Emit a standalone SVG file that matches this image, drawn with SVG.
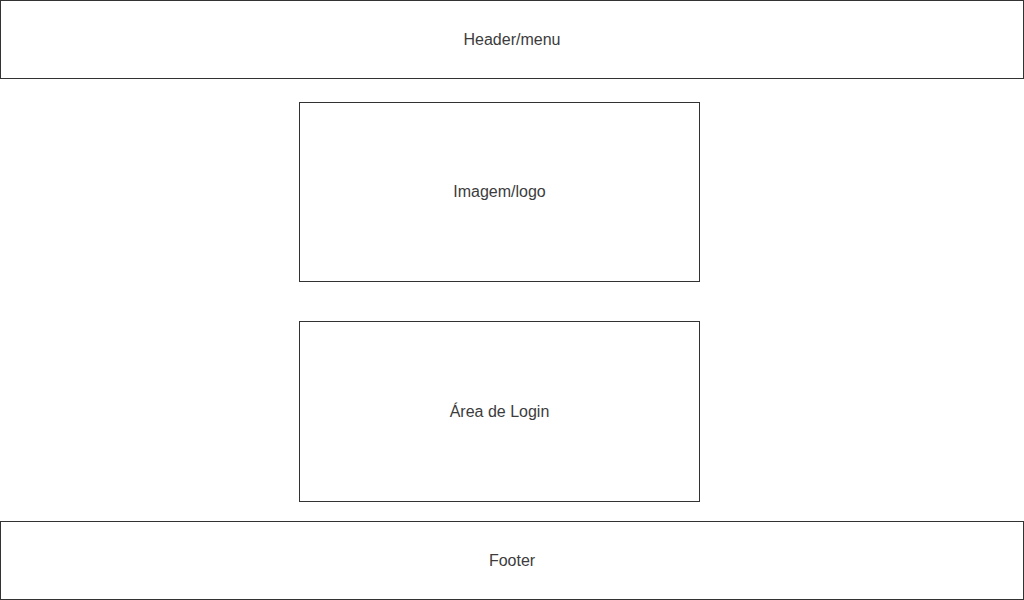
<svg xmlns="http://www.w3.org/2000/svg" width="1024" height="600" viewBox="0 0 1024 600">
<style>
.box{fill:#ffffff;stroke:#333333;stroke-width:1}
.lbl{font-family:"Liberation Sans",Arial,sans-serif;font-size:16px;fill:#3c3c3c;text-anchor:middle;dominant-baseline:central}
</style>
<rect width="1024" height="600" fill="#ffffff"/>
<g id="header"><rect class="box" x="0.5" y="0.5" width="1023" height="78"/><text class="lbl" x="512" y="39">Header/menu</text></g>
<g id="imagem"><rect class="box" x="299.5" y="102.5" width="400" height="179"/><text class="lbl" x="499.5" y="191">Imagem/logo</text></g>
<g id="login"><rect class="box" x="299.5" y="321.5" width="400" height="180"/><text class="lbl" x="499.5" y="411">Área de Login</text></g>
<g id="footer"><rect class="box" x="0.5" y="521.5" width="1023" height="78"/><text class="lbl" x="512" y="560">Footer</text></g>
<g id="connectors"/>
</svg>
